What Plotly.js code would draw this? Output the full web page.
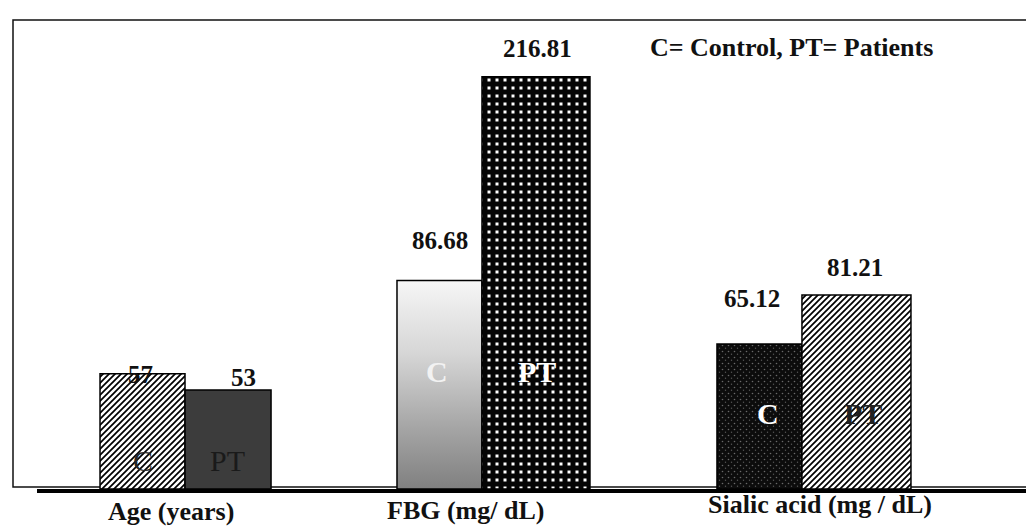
<!DOCTYPE html>
<html>
<head>
<meta charset="utf-8">
<script src="https://cdn.plot.ly/plotly-3.0.1.min.js"></script>
<style>
html,body{margin:0;padding:0;background:#fff;}
#chart{width:1026px;height:530px;}
</style>
</head>
<body>
<div id="chart"></div>
<script>
// ---- data ----
const categories = ['Age (years)', 'FBG (mg/ dL)', 'Sialic acid (mg / dL)'];
const controlValues = [57, 86.68, 65.12];
const patientValues = [53, 216.81, 81.21];
const groupLabels = ['C', 'PT'];
const noteText = 'C= Control, PT= Patients';

// ---- style (positions / sizes, not data) ----
const FONT = '"Liberation Serif", "Times New Roman", serif';
const Y_RANGE = [1.5306, 2.447];            // log10 axis range (axis hidden)
const BAR_BASE = Math.pow(10, Y_RANGE[0]);  // bars start at the axis floor
const ctrlOffset = [-0.2423, -0.3628, -0.4152];
const ctrlWidth  = [0.2517, 0.2517, 0.2517];
const ptOffset   = [0.0095, -0.1111, -0.1635];
const ptWidth    = [0.2547, 0.3198, 0.3228];
// fill style per bar: solid fallback colour + SVG fill id applied after drawing
const ctrlColor = ['#8c8c8c', '#b8b8b8', '#151515'];
const ptColor   = ['#3c3c3c', '#2a2a2a', '#8c8c8c'];
const ctrlFill  = ['hatchFill', 'fbgGrad', 'speckFill'];
const ptFill    = [null, 'dotFill', 'hatchFill'];

const ctrlValShiftX = [-41.8, -79.5, -105.2];
const ctrlValShiftY = [-1, 40.5, 46];
const ptValShiftX   = [61.2, 17.5, -2.2];
const ptValShiftY   = [12, 28.7, 28];

const ctrlInShiftX = [-38.8, -82.5, -89.2];
const ptInShiftX   = [45.2, 17.5, 5.8];
const inPaperY     = [0.0618, 0.2495, 0.162];
const ctrlInColor  = ['#262626', '#f2f2f2', '#ffffff'];
const ptInColor    = ['#1a1a1a', '#ffffff', '#222222'];
const ctrlInWeight = ['normal', 'bold', 'bold'];
const ptInWeight   = ['normal', 'bold', 'bold'];

const catShiftX = [-10.8, -54.5, -37.2];
const catPaperY = [-0.049, -0.0448, -0.0341];

const traceC = {
  type: 'bar', name: groupLabels[0], x: categories, y: controlValues.map(v => v - BAR_BASE),
  base: BAR_BASE, offset: ctrlOffset, width: ctrlWidth, hoverinfo: 'skip',
  marker: {color: ctrlColor, line: {color: '#000', width: 1.5}}
};
const traceP = {
  type: 'bar', name: groupLabels[1], x: categories, y: patientValues.map(v => v - BAR_BASE),
  base: BAR_BASE, offset: ptOffset, width: ptWidth, hoverinfo: 'skip',
  marker: {color: ptColor, line: {color: '#000', width: 1.5}}
};

const annotations = [];
categories.forEach((cat, i) => {
  annotations.push({x: cat, y: Math.log10(controlValues[i]), xref: 'x', yref: 'y',
    text: String(controlValues[i]), showarrow: false, xanchor: 'center', yanchor: 'middle',
    xshift: ctrlValShiftX[i], yshift: ctrlValShiftY[i],
    font: {family: FONT, size: 25, color: '#111', weight: 'bold'}});
  annotations.push({x: cat, y: Math.log10(patientValues[i]), xref: 'x', yref: 'y',
    text: String(patientValues[i]), showarrow: false, xanchor: 'center', yanchor: 'middle',
    xshift: ptValShiftX[i], yshift: ptValShiftY[i],
    font: {family: FONT, size: 25, color: '#111', weight: 'bold'}});
  annotations.push({x: cat, y: inPaperY[i], xref: 'x', yref: 'paper',
    text: groupLabels[0], showarrow: false, xanchor: 'center', yanchor: 'middle',
    xshift: ctrlInShiftX[i],
    font: {family: FONT, size: 30, color: ctrlInColor[i], weight: ctrlInWeight[i]}});
  annotations.push({x: cat, y: inPaperY[i], xref: 'x', yref: 'paper',
    text: groupLabels[1], showarrow: false, xanchor: 'center', yanchor: 'middle',
    xshift: ptInShiftX[i],
    font: {family: FONT, size: 30, color: ptInColor[i], weight: ptInWeight[i]}});
  annotations.push({x: cat, y: catPaperY[i], xref: 'x', yref: 'paper',
    text: cat, showarrow: false, xanchor: 'center', yanchor: 'middle',
    xshift: catShiftX[i],
    font: {family: FONT, size: 26, color: '#111', weight: 'bold'}});
});
annotations.push({x: 0.769, y: 0.9424, xref: 'paper', yref: 'paper', text: noteText,
  showarrow: false, xanchor: 'center', yanchor: 'middle',
  font: {family: FONT, size: 26, color: '#111', weight: 'bold'}});

const layout = {
  width: 1026, height: 530,
  margin: {l: 13, r: 0, t: 20, b: 41},
  paper_bgcolor: '#ffffff', plot_bgcolor: '#ffffff',
  showlegend: false, barmode: 'overlay',
  xaxis: {type: 'category', range: [-0.5, 2.5], showticklabels: false, ticks: '',
          showline: false, showgrid: false, zeroline: false, fixedrange: true},
  yaxis: {type: 'log', range: Y_RANGE, visible: false, showgrid: false,
          zeroline: false, fixedrange: true},
  annotations: annotations,
  shapes: [
    {type: 'rect', xref: 'paper', yref: 'paper', x0: 0, x1: 1.05, y0: 0.004, y1: 1,
     line: {color: '#111', width: 1.5}, fillcolor: 'rgba(0,0,0,0)', layer: 'below'},
    {type: 'line', xref: 'paper', yref: 'paper', x0: 0.0237, x1: 1.05, y0: -0.004, y1: -0.004,
     line: {color: '#000', width: 4}, layer: 'above'}
  ]
};

function el(ns, tag, attrs, parent) {
  const e = document.createElementNS(ns, tag);
  Object.keys(attrs).forEach(k => e.setAttribute(k, attrs[k]));
  if (parent) parent.appendChild(e);
  return e;
}

Plotly.newPlot('chart', [traceC, traceP], layout, {displayModeBar: false, staticPlot: true}).then(gd => {
  const svg = gd.querySelector('svg.main-svg');
  const ns = 'http://www.w3.org/2000/svg';
  let defs = svg.querySelector('defs');
  if (!defs) { defs = el(ns, 'defs', {}); svg.insertBefore(defs, svg.firstChild); }

  // diagonal hatch: white with black "/" lines
  const hatch = el(ns, 'pattern', {id: 'hatchFill', patternUnits: 'userSpaceOnUse', width: 6, height: 6}, defs);
  el(ns, 'rect', {x: 0, y: 0, width: 6, height: 6, fill: '#ffffff'}, hatch);
  el(ns, 'path', {d: 'M-1,7 L7,-1 M-4,4 L4,-4 M2,10 L10,2', stroke: '#000', 'stroke-width': 1.7, fill: 'none'}, hatch);

  // black with white square dots
  const dots = el(ns, 'pattern', {id: 'dotFill', patternUnits: 'userSpaceOnUse', width: 8, height: 8}, defs);
  el(ns, 'rect', {x: 0, y: 0, width: 8, height: 8, fill: '#050505'}, dots);
  el(ns, 'rect', {x: 2.5, y: 2.5, width: 3, height: 3, fill: '#ffffff'}, dots);

  // near-black with faint grey speckle
  const speck = el(ns, 'pattern', {id: 'speckFill', patternUnits: 'userSpaceOnUse', width: 6, height: 6}, defs);
  el(ns, 'rect', {x: 0, y: 0, width: 6, height: 6, fill: '#0c0c0c'}, speck);
  el(ns, 'circle', {cx: 1.5, cy: 1.5, r: 0.8, fill: '#6a6a6a'}, speck);
  el(ns, 'circle', {cx: 4.5, cy: 4.2, r: 0.7, fill: '#555555'}, speck);

  // vertical grey gradient (FBG control)
  const grad = el(ns, 'linearGradient', {id: 'fbgGrad', x1: 0, y1: 0, x2: 0, y2: 1}, defs);
  [['0', '#f6f6f6'], ['0.35', '#d6d6d6'], ['0.7', '#a6a6a6'], ['1', '#808080']].forEach(s => {
    el(ns, 'stop', {offset: s[0], 'stop-color': s[1]}, grad);
  });

  const traces = gd.querySelectorAll('.barlayer .trace');
  [ctrlFill, ptFill].forEach((fills, t) => {
    if (!traces[t]) return;
    const paths = traces[t].querySelectorAll('.point path');
    fills.forEach((id, i) => { if (id && paths[i]) paths[i].style.fill = 'url(#' + id + ')'; });
  });
});
</script>
</body>
</html>
